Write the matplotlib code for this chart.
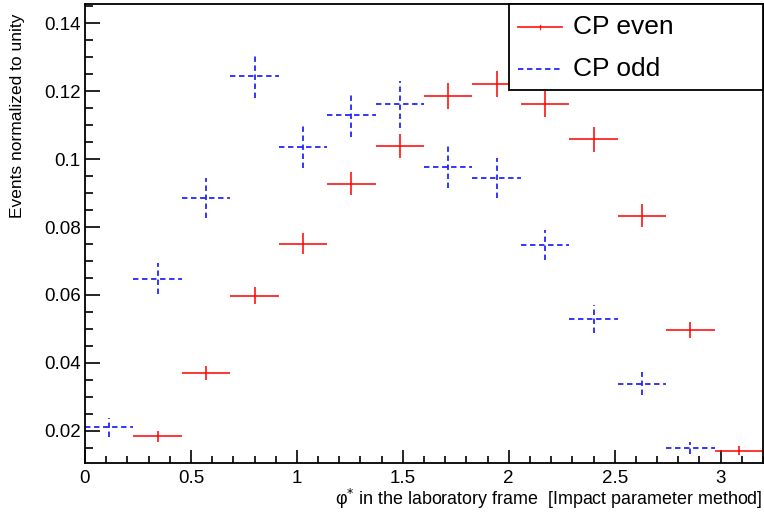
"""phi* distribution for CP even / CP odd hypotheses (ROOT-like style)."""
import numpy as np
import matplotlib
matplotlib.use("Agg")
import matplotlib.pyplot as plt
from matplotlib.lines import Line2D
from matplotlib.patches import Rectangle
from matplotlib.ticker import MultipleLocator, FuncFormatter

plt.rcParams["font.family"] = ["Liberation Sans", "DejaVu Sans"]

# 14 bins from 0 to 3.2
bin_edges = np.linspace(0.0, 3.2, 15)

# values (nan = below the visible range)
cp_even = [np.nan, 0.0184, 0.0371, 0.0598, 0.0751, 0.0928, 0.1039,
           0.1186, 0.1221, 0.1163, 0.1058, 0.0834, 0.0497, 0.0141]
cp_even_err = [np.nan, 0.0016, 0.0021, 0.0026, 0.0031, 0.0034, 0.0035,
               0.0038, 0.0039, 0.0039, 0.0036, 0.0033, 0.0024, 0.0013]
cp_odd = [0.0211, 0.0648, 0.0886, 0.1246, 0.1036, 0.1131, 0.1161,
          0.0977, 0.0945, 0.0747, 0.0530, 0.0339, 0.0149, np.nan]
cp_odd_err = [0.0028, 0.0046, 0.0058, 0.0067, 0.0061, 0.0066, 0.0068,
              0.0061, 0.0059, 0.0043, 0.0041, 0.0034, 0.0018, np.nan]
labels = ["CP even", "CP odd"]

W, H = 764, 515
RED, BLUE = "#ff0000", "#0000ff"
DASH = (0, (3, 2))

fig = plt.figure(figsize=(W / 100, H / 100), dpi=100)
ax = fig.add_axes([85 / W, 1 - 463 / H, (763 - 85) / W, (463 - 4) / H])

centers = 0.5 * (bin_edges[:-1] + bin_edges[1:])
half_w = 0.5 * np.diff(bin_edges)


def draw_hist(y, yerr, color, ls):
    cont = ax.errorbar(centers, y, xerr=half_w, yerr=yerr, fmt="none",
                       ecolor=color, elinewidth=1.3, capsize=0, alpha=0.85)
    for coll in cont.lines[2]:
        coll.set_linestyle(ls)


draw_hist(np.array(cp_even), np.array(cp_even_err), RED, "-")
draw_hist(np.array(cp_odd), np.array(cp_odd_err), BLUE, DASH)

ax.set_xlim(0, 3.2)
ax.set_ylim(0.0105, 0.1457)

fmt = FuncFormatter(lambda v, p: "%g" % round(v, 4))
ax.xaxis.set_major_locator(MultipleLocator(0.5))
ax.xaxis.set_minor_locator(MultipleLocator(0.1))
ax.yaxis.set_major_locator(MultipleLocator(0.02))
ax.yaxis.set_minor_locator(MultipleLocator(0.005))
ax.xaxis.set_major_formatter(fmt)
ax.yaxis.set_major_formatter(fmt)
ax.tick_params(axis="both", which="both", direction="in", top=False, right=False,
               width=1.2, labelsize=13.5)
ax.tick_params(axis="x", which="major", length=9.4, pad=5)
ax.tick_params(axis="x", which="minor", length=4.8)
ax.tick_params(axis="y", which="major", length=10.8, pad=3)
ax.tick_params(axis="y", which="minor", length=5.8)
for sp in ax.spines.values():
    sp.set_linewidth(1.3)


def px(x, y):
    return x / W, 1 - y / H


fig.text(*px(763, 499),
         "\u03c6$^{*}$ in the laboratory frame  [Impact parameter method]",
         ha="right", va="center", fontsize=12.9)
fig.text(*px(18, 14), "Events normalized to unity", rotation=90,
         ha="center", va="top", fontsize=12.5)

# legend box drawn by hand (ROOT TLegend look)
x0, y0 = px(509, 90)
x1, y1 = px(763, 4)
fig.add_artist(Rectangle((x0, y0), x1 - x0, y1 - y0, transform=fig.transFigure,
                         facecolor="white", edgecolor="black", lw=1.3, zorder=5))
for lab, color, ls, yrow in zip(labels, [RED, BLUE], ["-", DASH], [27, 69]):
    xa, ya = px(518, yrow)
    xb, _ = px(562, yrow)
    fig.add_artist(Line2D([xa, xb], [ya, ya], transform=fig.transFigure,
                          color=color, lw=1.3, ls=ls, alpha=0.85, zorder=6))
    fig.text(*px(573, yrow), lab, ha="left", va="center", fontsize=19, zorder=6)
# small error-bar tick in the CP even legend sample
xm, ym = px(540, 27)
fig.add_artist(Line2D([xm, xm], [ym - 2 / H, ym + 2 / H], transform=fig.transFigure,
                      color=RED, lw=1.0, alpha=0.85, zorder=6))

fig.savefig("out.png", dpi=100)
